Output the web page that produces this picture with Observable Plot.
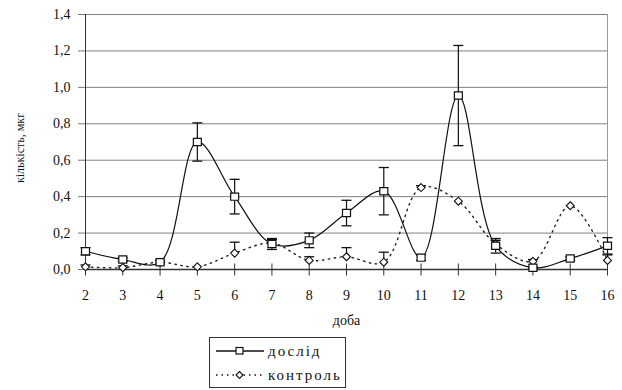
<!DOCTYPE html>
<html>
<head>
<meta charset="utf-8">
<script src="https://cdn.jsdelivr.net/npm/d3@7"></script>
<script src="https://cdn.jsdelivr.net/npm/@observablehq/plot@0.6"></script>
<style>
  html, body { margin: 0; padding: 0; background: #fff; }
  #wrap { position: relative; width: 622px; height: 390px; font-family: "Liberation Serif", "Times New Roman", "DejaVu Serif", serif; }
  #chart svg, #chart svg text { font-family: "Liberation Serif", "Times New Roman", "DejaVu Serif", serif !important; }
  #legend { position: absolute; left: 209px; top: 337px; width: 135px; height: 49px; border: 1px solid #333; background: #fff; }
  .row { display: flex; align-items: center; height: 24px; font-size: 15px; letter-spacing: 2px; color: #111; }
  .row svg { margin-left: 6px; margin-right: 4px; }
</style>
</head>
<body>
<div id="wrap">
  <div id="chart"></div>
  <div id="legend">
    <div class="row" style="margin-top:1px"><svg width="48" height="14"><line x1="0" y1="7" x2="48" y2="7" stroke="#111" stroke-width="1.3"/><rect x="20" y="3.5" width="7" height="6.5" fill="#fff" stroke="#111" stroke-width="1.2"/></svg><span>дослід</span></div>
    <div class="row"><svg width="48" height="14"><line x1="0" y1="7" x2="48" y2="7" stroke="#111" stroke-width="1.3" stroke-dasharray="1.5,4"/><path d="M23.5,3.5 L27,7 L23.5,10.5 L20,7 Z" fill="#fff" stroke="#111" stroke-width="1.1"/></svg><span>контроль</span></div>
  </div>
</div>
<script>
const days = [2, 3, 4, 5, 6, 7, 8, 9, 10, 11, 12, 13, 14, 15, 16];
const experiment    = [0.10, 0.055, 0.04, 0.70, 0.40, 0.14, 0.16, 0.31, 0.43, 0.065, 0.955, 0.13, 0.01, 0.06, 0.13];
const experimentErr = [0.02, 0.01, 0.01, 0.105, 0.095, 0.03, 0.04, 0.07, 0.13, 0.015, 0.275, 0.04, 0.005, 0.01, 0.045];
const control       = [0.015, 0.01, 0.04, 0.015, 0.09, 0.145, 0.05, 0.07, 0.04, 0.45, 0.375, 0.14, 0.045, 0.35, 0.05];
const controlErr    = [0.01, 0.01, 0.01, 0, 0.06, 0.02, 0.02, 0.05, 0.055, 0.01, 0, 0.02, 0.01, 0, 0.03];
const yTicks = [0, 0.2, 0.4, 0.6, 0.8, 1.0, 1.2, 1.4];
const xLabel = "доба";
const yLabel = "кількість, мкг";

const exp = days.map((d, i) => ({day: d, v: experiment[i], lo: experiment[i] - experimentErr[i], hi: experiment[i] + experimentErr[i]}));
const ctl = days.map((d, i) => ({day: d, v: control[i], lo: control[i], hi: control[i] + controlErr[i]}));
const ctlErr = ctl.filter(d => d.hi > d.lo);

// custom symbols; Plot passes size = π r², so use half-extent = sqrt(size/π) = r
const half = size => Math.sqrt(size / Math.PI);
const hLine = {draw(ctx, size) { const r = half(size); ctx.moveTo(-r, 0); ctx.lineTo(r, 0); }};
const vLine = {draw(ctx, size) { const r = half(size); ctx.moveTo(0, -r); ctx.lineTo(0, r); }};
const square = {draw(ctx, size) { const r = half(size); ctx.moveTo(-r, -r*0.9); ctx.lineTo(r, -r*0.9); ctx.lineTo(r, r*0.9); ctx.lineTo(-r, r*0.9); ctx.closePath(); }};
const diamond = {draw(ctx, size) { const r = half(size); ctx.moveTo(0, -r); ctx.lineTo(r, 0); ctx.lineTo(0, r); ctx.lineTo(-r, 0); ctx.closePath(); }};

const fmt = d => d3.format(".1f")(d).replace(".", ",");

const chart = Plot.plot({
  width: 622,
  height: 336,
  marginTop: 14,
  marginBottom: 67,
  marginLeft: 85,
  marginRight: 15,
  style: "font-family: 'Liberation Serif', 'Times New Roman', serif; font-size: 14px; color: #111; background: #fff;",
  x: {domain: [2, 16]},
  y: {domain: [0, 1.4]},
  marks: [
    Plot.ruleY(yTicks.filter(t => t > 0), {stroke: "#808080", strokeWidth: 1, strokeOpacity: 1}),
    Plot.ruleX([16], {stroke: "#999", strokeWidth: 1}),
    Plot.axisY({ticks: yTicks, tickFormat: fmt, tickSize: 7, tickPadding: 8, stroke: "#777", strokeOpacity: 1, label: null, style: {letterSpacing: "3.5px", fontSize: "14px"}}),
    Plot.text([yLabel], {frameAnchor: "left", textAnchor: "middle", dx: -65, dy: 6, rotate: -90, fontSize: 12, fill: "#111"}),
    Plot.axisX({ticks: days, tickFormat: d => String(d), tickSize: 0, tickPadding: 21, label: null, style: {fontSize: "14px", letterSpacing: "1px"}}),
    Plot.text([xLabel], {frameAnchor: "bottom", dy: 55, fontSize: 14, fill: "#111", style: {letterSpacing: "2px"}}),
    Plot.dot(days, {x: d => d, y: 0, symbol: vLine, r: 6, stroke: "#333", strokeWidth: 1}),
    Plot.ruleX([2], {stroke: "#333", strokeWidth: 1}),
    Plot.ruleY([0], {stroke: "#333", strokeWidth: 1.3}),
    Plot.line(ctl, {x: "day", y: "v", curve: "catmull-rom", stroke: "#222", strokeWidth: 1.4, strokeDasharray: "1.5,4.5"}),
    Plot.line(exp, {x: "day", y: "v", curve: "catmull-rom", stroke: "#111", strokeWidth: 1.2}),
    Plot.ruleX(exp, {x: "day", y1: "lo", y2: "hi", stroke: "#111", strokeWidth: 1.2}),
    Plot.dot(exp, {x: "day", y: "lo", symbol: hLine, r: 5, stroke: "#111", strokeWidth: 1.3}),
    Plot.dot(exp, {x: "day", y: "hi", symbol: hLine, r: 5, stroke: "#111", strokeWidth: 1.3}),
    Plot.ruleX(ctlErr, {x: "day", y1: "lo", y2: "hi", stroke: "#111", strokeWidth: 1.2}),
    Plot.dot(ctlErr, {x: "day", y: "hi", symbol: hLine, r: 5, stroke: "#111", strokeWidth: 1.3}),
    Plot.dot(ctl, {x: "day", y: "v", symbol: diamond, r: 4, fill: "#fff", stroke: "#111", strokeWidth: 1.1}),
    Plot.dot(exp, {x: "day", y: "v", symbol: square, r: 4, fill: "#fff", stroke: "#111", strokeWidth: 1.2})
  ]
});
document.getElementById("chart").appendChild(chart);
</script>
</body>
</html>
